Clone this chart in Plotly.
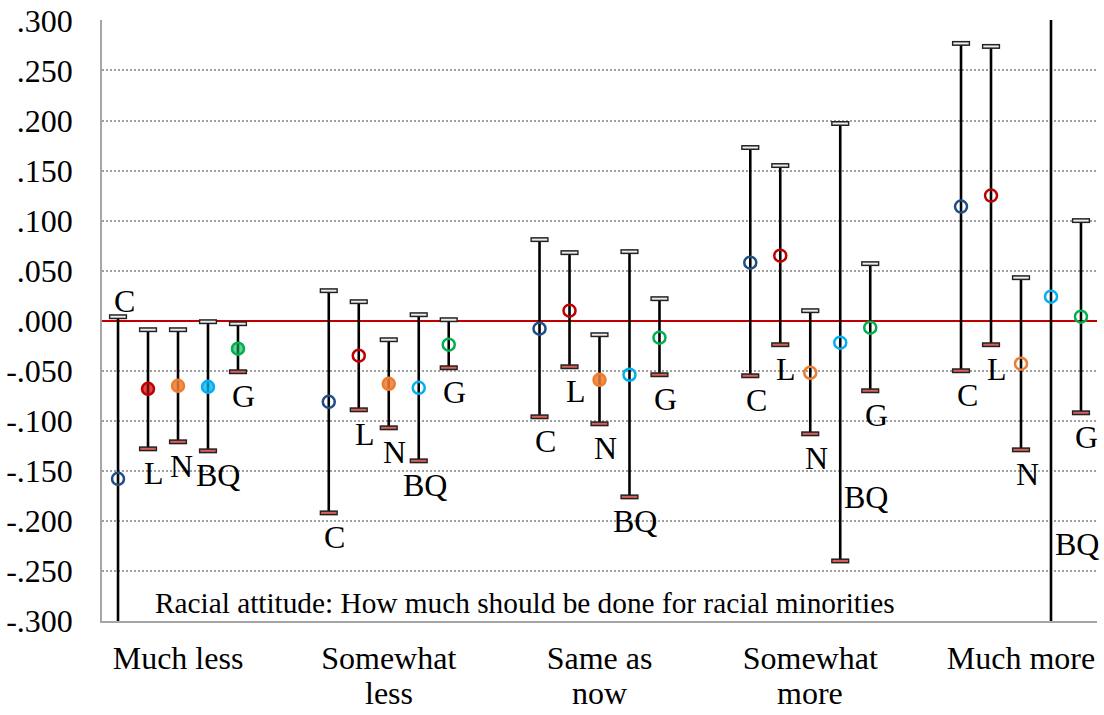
import plotly.graph_objects as go

# ---------------- data ----------------
categories = ["Much less", "Somewhat", "Same as", "Somewhat", "Much more"]
categories_line2 = ["", "less", "now", "more", ""]
series = ["C", "L", "N", "BQ", "G"]

mean_C = [-0.158, -0.081, -0.008, 0.058, 0.114]
mean_L = [-0.068, -0.035, 0.010, 0.065, 0.125]
mean_N = [-0.065, -0.063, -0.059, -0.052, -0.043]
mean_BQ = [-0.066, -0.067, -0.054, -0.022, 0.024]
mean_G = [-0.028, -0.024, -0.017, -0.007, 0.004]

upper_C = [0.004, 0.030, 0.081, 0.173, 0.277]
upper_L = [-0.009, 0.019, 0.068, 0.155, 0.274]
upper_N = [-0.009, -0.019, -0.014, 0.010, 0.043]
upper_BQ = [-0.001, 0.006, 0.069, 0.197, 0.380]
upper_G = [-0.003, 0.001, 0.022, 0.057, 0.100]

lower_C = [-0.320, -0.192, -0.096, -0.055, -0.050]
lower_L = [-0.128, -0.089, -0.046, -0.024, -0.024]
lower_N = [-0.121, -0.107, -0.103, -0.113, -0.129]
lower_BQ = [-0.130, -0.140, -0.176, -0.240, -0.332]
lower_G = [-0.051, -0.047, -0.054, -0.070, -0.092]

# significant (filled marker) flags
filled_C = [False, False, False, False, False]
filled_L = [True, False, False, False, False]
filled_N = [True, True, True, False, False]
filled_BQ = [True, False, False, False, False]
filled_G = [True, False, False, False, False]

y_ticks = [-0.30, -0.25, -0.20, -0.15, -0.10, -0.05, 0.0, 0.05, 0.10, 0.15, 0.20, 0.25, 0.30]
note_text = "Racial attitude: How much should be done for racial minorities"

means = {"C": mean_C, "L": mean_L, "N": mean_N, "BQ": mean_BQ, "G": mean_G}
uppers = {"C": upper_C, "L": upper_L, "N": upper_N, "BQ": upper_BQ, "G": upper_G}
lowers = {"C": lower_C, "L": lower_L, "N": lower_N, "BQ": lower_BQ, "G": lower_G}
filled = {"C": filled_C, "L": filled_L, "N": filled_N, "BQ": filled_BQ, "G": filled_G}

# ---------------- style ----------------
colors = {"C": "#1F4E89", "L": "#C00000", "N": "#ED7D31", "BQ": "#00B0F0", "G": "#00B050"}
fills = {"C": "rgba(31,78,137,0.7)", "L": "rgba(192,0,0,0.7)", "N": "rgba(237,125,49,0.85)",
         "BQ": "rgba(0,176,240,0.75)", "G": "rgba(0,176,80,0.6)"}
FONT = "Liberation Serif, Times New Roman, serif"
step = 0.1423  # offset between series within a category

fig = go.Figure()

for k, s in enumerate(series):
    xs = [i + (k - 2) * step for i in range(len(categories))]
    m = means[s]
    fig.add_trace(go.Scatter(
        x=xs, y=m, mode="markers", showlegend=False,
        marker=dict(symbol="circle", size=12,
                    color=[fills[s] if f else "rgba(0,0,0,0)" for f in filled[s]],
                    line=dict(color=colors[s], width=2.5)),
        error_y=dict(type="data", symmetric=False,
                     array=[u - v for u, v in zip(uppers[s], m)],
                     arrayminus=[v - l for v, l in zip(m, lowers[s])],
                     width=0, thickness=2.6, color="black"),
    ))

# caps (bordered small bars)
for s_idx, s in enumerate(series):
    xs = [i + (s_idx - 2) * step for i in range(len(categories))]
    for vals, inner in ((uppers[s], "#EDEDED"), (lowers[s], "#D9605A")):
        fig.add_trace(go.Scatter(x=xs, y=vals, mode="markers", showlegend=False, hoverinfo="skip",
                                 marker=dict(symbol="line-ew", size=13,
                                             line=dict(color="#222222", width=5))))
        fig.add_trace(go.Scatter(x=xs, y=vals, mode="markers", showlegend=False, hoverinfo="skip",
                                 marker=dict(symbol="line-ew", size=11,
                                             line=dict(color=inner, width=2))))

# series labels
px_per_unit = 1003.0
for k, s in enumerate(series):
    for i in range(len(categories)):
        x = i + (k - 2) * step
        xshift = 6
        if i == 0 and s == "C":
            y = uppers[s][i] + 16 / px_per_unit
        elif s == "BQ" and i == 3:
            y = -0.1765
            xshift = 26
        elif s == "BQ" and i == 4:
            y = -0.2226
            xshift = 26
        else:
            y = lowers[s][i] - 24 / px_per_unit
        if i == 0 and s == "N":
            xshift = 3
        if i == 0 and s == "BQ":
            xshift = 10
        fig.add_annotation(x=x, y=y, text=s, showarrow=False, xshift=xshift,
                           xanchor="center", yanchor="middle",
                           font=dict(family=FONT, size=32, color="black"))

# second line of the category labels (tighter line spacing than Plotly's <br>)
for i, t in enumerate(categories_line2):
    if t:
        fig.add_annotation(x=i, xref="x", y=0, yref="paper", text=t, showarrow=False,
                           xanchor="center", yanchor="middle", yshift=-72,
                           font=dict(family=FONT, size=32, color="black"))

fig.add_annotation(xref="paper", x=0.0513, y=-0.282, text=note_text, showarrow=False,
                   xanchor="left", yanchor="middle",
                   font=dict(family=FONT, size=29.3, color="black"))

fig.update_layout(
    width=1104, height=715,
    margin=dict(l=102, r=7, t=20, b=94),
    paper_bgcolor="white", plot_bgcolor="white",
    showlegend=False,
    font=dict(family=FONT, color="black"),
)
fig.update_xaxes(range=[-0.3606, 4.3606], tickvals=list(range(len(categories))), ticktext=categories,
                 showgrid=False, zeroline=False, showline=True, linecolor="#A6A6A6", linewidth=1.5,
                 ticks="", tickfont=dict(family=FONT, size=32), ticklabelstandoff=8,
                 automargin=False, ticklabeloverflow="allow")
fig.update_yaxes(range=[-0.30, 0.3004], tickvals=y_ticks,
                 ticktext=[f"{v:.3f}".replace("0.", ".", 1) for v in y_ticks],
                 showgrid=True, gridcolor="#A0A0A0", gridwidth=1.5, griddash="2px,2px",
                 zeroline=True, zerolinecolor="#C00000", zerolinewidth=2,
                 showline=True, linecolor="#A6A6A6", linewidth=1.5,
                 ticks="", tickfont=dict(family=FONT, size=32), ticklabelstandoff=21,
                 automargin=False, ticklabeloverflow="allow")

fig.write_html("out.html", config={"displayModeBar": False},
               post_script="document.body.style.margin='0';document.body.style.overflow='hidden';")
